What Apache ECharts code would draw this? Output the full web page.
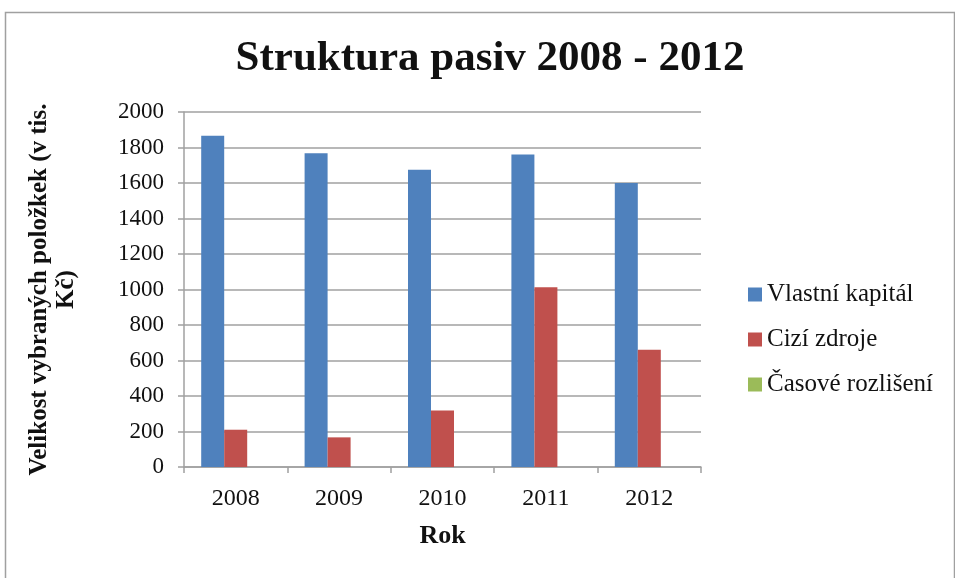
<!DOCTYPE html>
<html>
<head>
<meta charset="utf-8">
<script src="https://cdn.jsdelivr.net/npm/echarts@6/dist/echarts.min.js"></script>
<style>html,body{margin:0;padding:0;background:#fff}#c{width:955px;height:578px}</style>
</head>
<body>
<div id="c"></div>
<script>
const categories = ['2008', '2009', '2010', '2011', '2012'];
const vlastniKapital = [1866, 1767, 1675, 1761, 1600];
const ciziZdroje = [210, 167, 319, 1013, 660];
const casoveRozliseni = [0, 0, 0, 0, 0];
const seriesNames = ['Vlastní kapitál', 'Cizí zdroje', 'Časové rozlišení'];
const yTicks = [0, 200, 400, 600, 800, 1000, 1200, 1400, 1600, 1800, 2000];

const FONT = "'Liberation Serif', 'Times New Roman', serif";
const GRID = '#a0a0a0';
const chart = echarts.init(document.getElementById('c'));
chart.setOption({
  animation: false,
  textStyle: { fontFamily: FONT },
  graphic: [{
    type: 'rect', left: 3, top: 10,
    shape: { width: 949, height: 580 },
    style: { fill: 'none', stroke: '#a0a0a0', lineWidth: 1.5 }, z: -1
  }],
  title: {
    text: 'Struktura pasiv 2008 - 2012',
    left: 485, top: 32, textAlign: 'center',
    textStyle: { fontFamily: FONT, fontWeight: 'bold', fontSize: 43, color: '#111' }
  },
  legend: {
    orient: 'vertical', left: 743, top: 277,
    itemWidth: 14, itemHeight: 14, itemGap: 20,
    icon: 'rect',
    data: seriesNames,
    textStyle: { fontFamily: FONT, fontSize: 25, color: '#111', padding: [0, 0, 0, 0] }
  },
  grid: { left: 184, right: 254, top: 112, bottom: 111 },
  xAxis: {
    type: 'category', data: categories,
    name: 'Rok', nameLocation: 'middle', nameGap: 56,
    nameTextStyle: { fontFamily: FONT, fontWeight: 'bold', fontSize: 26, color: '#111' },
    axisLine: { lineStyle: { color: GRID, width: 1.5 } },
    axisTick: { show: true, length: 6, lineStyle: { color: GRID, width: 1.5 } },
    axisLabel: { fontFamily: FONT, fontSize: 24, color: '#111', margin: 20 }
  },
  yAxis: {
    type: 'value', min: 0, max: 2000, interval: 200,
    name: 'Velikost vybraných položkek (v tis.\nKč)',
    nameLocation: 'middle', nameRotate: 90, nameGap: 104,
    nameTextStyle: { fontFamily: FONT, fontWeight: 'bold', fontSize: 25, color: '#111', lineHeight: 27 },
    axisLine: { show: true, lineStyle: { color: GRID, width: 1.5 } },
    axisTick: { show: true, length: 6, lineStyle: { color: GRID, width: 1.5 } },
    splitLine: { lineStyle: { color: GRID, width: 1.5 } },
    axisLabel: { fontFamily: FONT, fontSize: 23, color: '#111', margin: 20,
      formatter: v => yTicks.includes(v) ? String(v) : '' }
  },
  series: [
    { name: seriesNames[0], type: 'bar', data: vlastniKapital, barWidth: 23, barGap: '0%',
      itemStyle: { color: '#4f81bd' } },
    { name: seriesNames[1], type: 'bar', data: ciziZdroje, barWidth: 23, barGap: '0%',
      itemStyle: { color: '#c0504d' } },
    { name: seriesNames[2], type: 'bar', data: casoveRozliseni, barWidth: 23, barGap: '0%',
      itemStyle: { color: '#9bbb59' } }
  ]
});
</script>
</body>
</html>
